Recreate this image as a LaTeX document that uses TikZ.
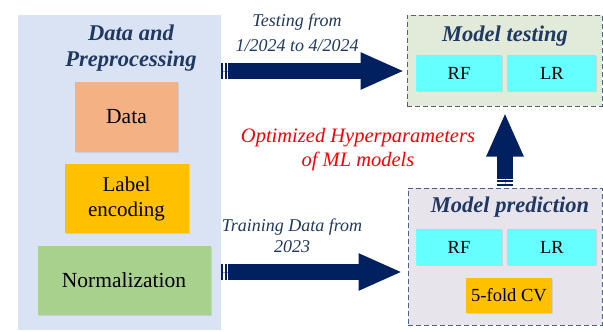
\documentclass[tikz,border=0pt]{standalone}
\usepackage{fontspec}
\setmainfont{Liberation Serif}
\usetikzlibrary{positioning,arrows.meta,shadows}

\definecolor{panelblue}{HTML}{DAE3F3}
\definecolor{salmon}{HTML}{F4B183}
\definecolor{gold}{HTML}{FFC000}
\definecolor{leafgreen}{HTML}{A9D18E}
\definecolor{modelcyan}{HTML}{66FFFF}
\definecolor{testgreen}{HTML}{E2EBDA}
\definecolor{predgray}{HTML}{E7E4EC}
\definecolor{dashblue}{HTML}{4F627E}
\definecolor{titlenavy}{HTML}{1F3864}
\definecolor{arrownavy}{HTML}{002060}
\definecolor{barlight}{HTML}{8FA3C7}

\tikzset{
  block/.style={inner sep=0pt, align=center,
    drop shadow={opacity=0.2, shadow xshift=1pt, shadow yshift=-1pt}},
  model/.style={block, fill=modelcyan, minimum width=86pt, minimum height=36pt,
    font=\fontsize{18.5}{21}\selectfont},
  stage/.style={draw=dashblue, line width=1pt, dash pattern=on 5pt off 3pt, inner sep=0pt},
  heading/.style={text=titlenavy, align=center,
    font=\fontsize{22.5}{26.5}\selectfont\bfseries\itshape},
  note/.style={text=titlenavy, align=center, font=\fontsize{18}{24}\selectfont\itshape},
  bigarrow/.style={draw=arrownavy, line width=16pt, -{Triangle[length=44pt,width=34pt]}},
  bars/.style={draw=arrownavy, line width=16pt, dash pattern=on 2pt off 1.5pt,
    preaction={draw=barlight, solid}}
}

\begin{document}
\begin{tikzpicture}[x=1pt,y=-1pt,node distance=12pt]
  \useasboundingbox (0,0) rectangle (603,332);
  % preprocessing panel
  \node[fill=panelblue, minimum width=203pt, minimum height=315pt, inner sep=0pt] (prep) at (119.5,172.5) {};
  \node[heading] (preptitle) at (131,48) {Data and\\Preprocessing};
  \node[block, fill=salmon, minimum width=103pt, minimum height=70pt,
    font=\fontsize{21.5}{25}\selectfont] (data) at (126.5,117) {Data};
  \node[block, fill=gold, minimum width=124pt, minimum height=69pt,
    font=\fontsize{21}{25}\selectfont] (label) [below=of data] {Label\\encoding};
  \node[block, fill=leafgreen, minimum width=173pt, minimum height=69pt,
    font=\fontsize{21.5}{25}\selectfont] (norm) [below=of label, xshift=-2.5pt] {Normalization};

  % model testing
  \node[stage, fill=testgreen, minimum width=195pt, minimum height=91pt] (test) at (504.5,60.5) {};
  \node[heading] (testtitle) at (505,36) {Model testing};
  \node[model] (testrf) at (459,73) {RF};
  \node[model, minimum width=89pt, right=5pt of testrf] (testlr) {LR};

  % model prediction
  \node[stage, fill=predgray, minimum width=194pt, minimum height=137pt] (pred) at (505,256.5) {};
  \node[heading] (predtitle) at (510,207) {Model prediction};
  \node[model] (predrf) at (459,247) {RF};
  \node[model, minimum width=89pt, right=5pt of predrf] (predlr) {LR};
  \node[model, fill=gold, minimum height=35pt] (cv) at (509,295.5) {5-fold CV};

  % arrows
  \coordinate (toptip) at ([xshift=-2pt,yshift=-10.5pt]test.west);
  \draw[bars] (prep.east |- toptip) -- ++(7,0) coordinate (topbase);
  \draw[bigarrow] (topbase) -- (toptip);
  \coordinate (bottip) at ([xshift=-5pt,yshift=-15.5pt]pred.west);
  \draw[bars] (prep.east |- bottip) -- ++(7,0) coordinate (botbase);
  \draw[bigarrow] (botbase) -- (bottip);
  \coordinate (uptip) at ([yshift=-6pt]pred.north |- test.south);
  \draw[bars] ([yshift=2pt]pred.north) -- ++(0,-7) coordinate (upbase);
  \draw[bigarrow] (upbase) -- (uptip);

  % labels
  \node[note] (testnote) at (297,33) {Testing from\\[1pt]1/2024 to 4/2024};
  \node[note] (trainnote) at (292,236) {Training Data from\\[-3pt]2023};
  \node[note, text=red, font=\fontsize{20.5}{24}\selectfont\itshape] (hyper) at (358,150)
    {Optimized Hyperparameters\\of ML models};
\end{tikzpicture}
\end{document}
